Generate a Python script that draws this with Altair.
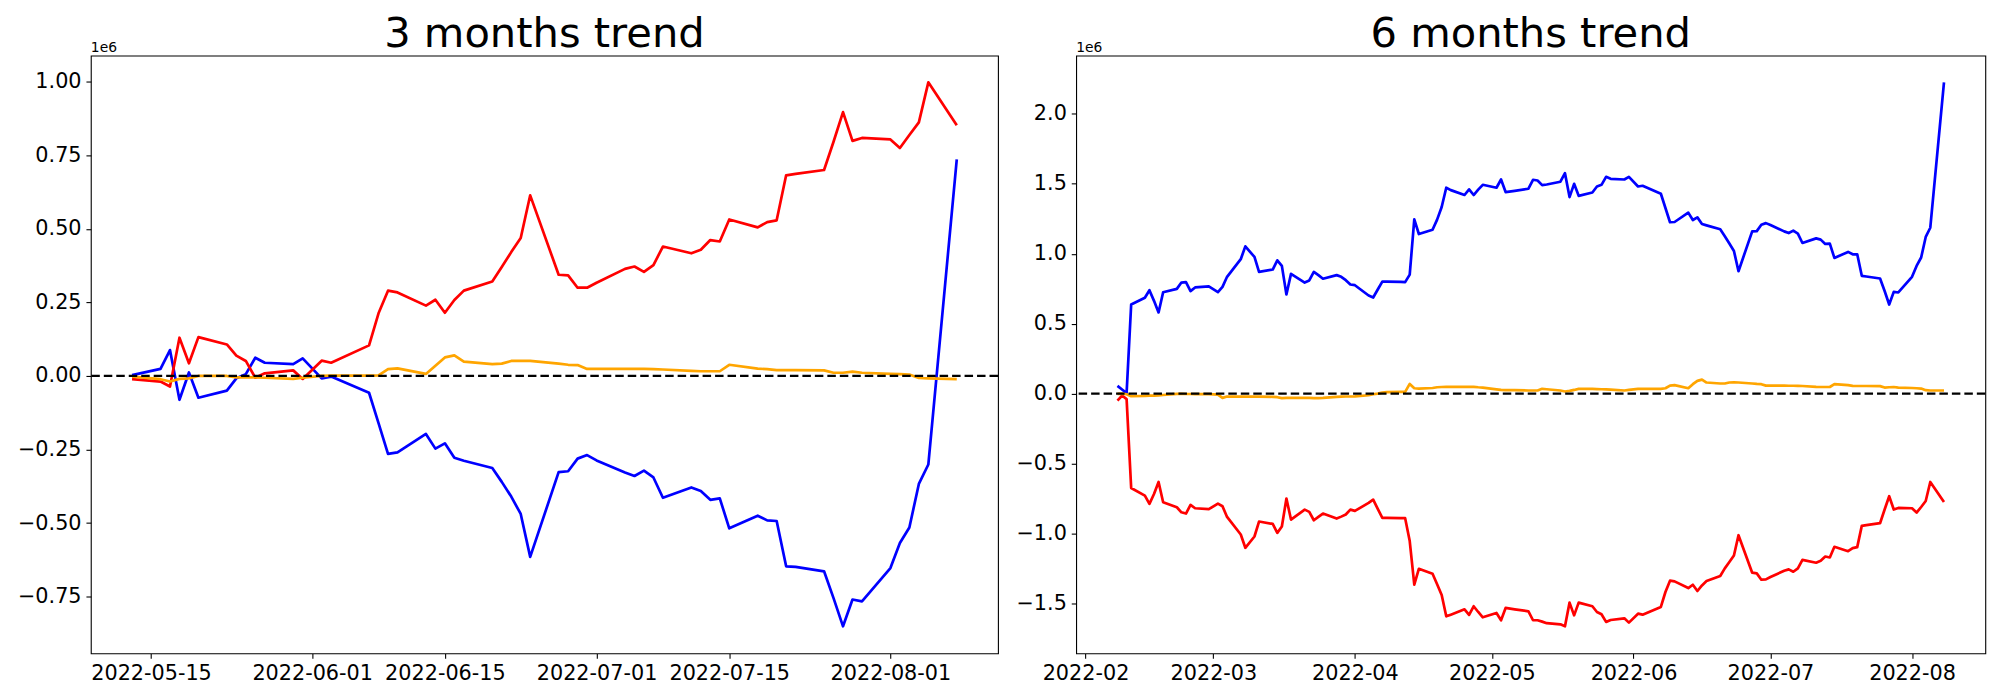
import altair as alt
import pandas as pd

# ---------------- data (values in units of 1e6) ----------------
dates_3m = (
    ["2022-05-13", "2022-05-16", "2022-05-17", "2022-05-18", "2022-05-19", "2022-05-20",
     "2022-05-23", "2022-05-24", "2022-05-25", "2022-05-26", "2022-05-27", "2022-05-30", "2022-05-31"]
    + ["2022-06-02", "2022-06-03", "2022-06-07", "2022-06-08", "2022-06-09", "2022-06-10",
       "2022-06-13", "2022-06-14", "2022-06-15", "2022-06-16", "2022-06-17", "2022-06-20",
       "2022-06-21", "2022-06-22", "2022-06-23", "2022-06-24", "2022-06-27", "2022-06-28",
       "2022-06-29", "2022-06-30"]
    + ["2022-07-01", "2022-07-04", "2022-07-05", "2022-07-06", "2022-07-07", "2022-07-08",
       "2022-07-11", "2022-07-12", "2022-07-13", "2022-07-14", "2022-07-15", "2022-07-18",
       "2022-07-19", "2022-07-20", "2022-07-21", "2022-07-22", "2022-07-25", "2022-07-26",
       "2022-07-27", "2022-07-28", "2022-07-29"]
    + ["2022-08-01", "2022-08-02", "2022-08-03", "2022-08-04", "2022-08-05", "2022-08-08"]
)
blue_3m = (
    [0.003, 0.024, 0.088, -0.081, 0.012, -0.074, -0.050, -0.008, 0.006, 0.062, 0.045, 0.040, 0.060]
    + [-0.008, -0.002, -0.057, -0.160, -0.265, -0.260, -0.197, -0.247, -0.229, -0.278, -0.288,
       -0.313, -0.360, -0.410, -0.469, -0.615, -0.327, -0.324, -0.281, -0.269]
    + [-0.287, -0.328, -0.340, -0.322, -0.345, -0.414, -0.379, -0.391, -0.421, -0.416, -0.518,
       -0.475, -0.491, -0.493, -0.647, -0.649, -0.664, -0.755, -0.851, -0.760, -0.766]
    + [-0.653, -0.568, -0.515, -0.367, -0.301, 0.736]
)
red_3m = (
    [-0.011, -0.019, -0.036, 0.130, 0.043, 0.132, 0.107, 0.069, 0.051, -0.006, 0.009, 0.019, -0.010]
    + [0.052, 0.045, 0.104, 0.213, 0.290, 0.284, 0.239, 0.259, 0.215, 0.258, 0.290, 0.321,
       0.370, 0.421, 0.469, 0.614, 0.344, 0.342, 0.300, 0.300]
    + [0.317, 0.364, 0.372, 0.354, 0.377, 0.440, 0.417, 0.429, 0.462, 0.457, 0.532, 0.505,
       0.523, 0.529, 0.682, 0.687, 0.700, 0.796, 0.897, 0.799, 0.809]
    + [0.804, 0.775, 0.819, 0.862, 0.998, 0.852]
)
orange_3m = (
    [-0.002, -0.011, -0.019, -0.010, -0.008, 0.000, 0.000, -0.005, -0.005, -0.005, -0.006, -0.010, -0.006]
    + [0.000, 0.001, 0.001, 0.002, 0.023, 0.026, 0.007, 0.035, 0.063, 0.070, 0.049, 0.040,
       0.042, 0.051, 0.051, 0.051, 0.042, 0.038, 0.037, 0.024]
    + [0.024, 0.024, 0.024, 0.024, 0.023, 0.022, 0.017, 0.016, 0.016, 0.016, 0.038, 0.025,
       0.023, 0.020, 0.020, 0.020, 0.019, 0.011, 0.011, 0.015, 0.011]
    + [0.007, 0.006, 0.005, -0.007, -0.008, -0.011]
)

dates_6m = (
    ["2022-02-08", "2022-02-09", "2022-02-10", "2022-02-11", "2022-02-14", "2022-02-15",
     "2022-02-16", "2022-02-17", "2022-02-18", "2022-02-21", "2022-02-22", "2022-02-23",
     "2022-02-24", "2022-02-25", "2022-02-28"]
    + ["2022-03-02", "2022-03-03", "2022-03-04", "2022-03-07", "2022-03-08", "2022-03-10",
       "2022-03-11", "2022-03-14", "2022-03-15", "2022-03-16", "2022-03-17", "2022-03-18",
       "2022-03-21", "2022-03-22", "2022-03-23", "2022-03-24", "2022-03-25", "2022-03-28",
       "2022-03-29", "2022-03-30", "2022-03-31"]
    + ["2022-04-01", "2022-04-04", "2022-04-05", "2022-04-06", "2022-04-07", "2022-04-08",
       "2022-04-11", "2022-04-12", "2022-04-13", "2022-04-14", "2022-04-15", "2022-04-18",
       "2022-04-19", "2022-04-20", "2022-04-21", "2022-04-22", "2022-04-25", "2022-04-26",
       "2022-04-27", "2022-04-28", "2022-04-29"]
    + ["2022-05-02", "2022-05-03", "2022-05-04", "2022-05-06", "2022-05-09", "2022-05-10",
       "2022-05-11", "2022-05-12", "2022-05-13", "2022-05-16", "2022-05-17", "2022-05-18",
       "2022-05-19", "2022-05-20", "2022-05-23", "2022-05-24", "2022-05-25", "2022-05-26",
       "2022-05-27", "2022-05-30", "2022-05-31"]
    + ["2022-06-02", "2022-06-03", "2022-06-07", "2022-06-08", "2022-06-09", "2022-06-10",
       "2022-06-13", "2022-06-14", "2022-06-15", "2022-06-16", "2022-06-17", "2022-06-20",
       "2022-06-21", "2022-06-22", "2022-06-23", "2022-06-24", "2022-06-27", "2022-06-28",
       "2022-06-29", "2022-06-30"]
    + ["2022-07-01", "2022-07-04", "2022-07-05", "2022-07-06", "2022-07-07", "2022-07-08",
       "2022-07-11", "2022-07-12", "2022-07-13", "2022-07-14", "2022-07-15", "2022-07-18",
       "2022-07-19", "2022-07-20", "2022-07-21", "2022-07-22", "2022-07-25", "2022-07-26",
       "2022-07-27", "2022-07-28", "2022-07-29"]
    + ["2022-08-01", "2022-08-02", "2022-08-03", "2022-08-04", "2022-08-05", "2022-08-08"]
)
blue_6m = (
    [0.055, 0.029, 0.003, 0.637, 0.685, 0.739, 0.663, 0.580, 0.725, 0.749, 0.794, 0.797,
     0.733, 0.759, 0.766]
    + [0.725, 0.763, 0.835, 0.961, 1.053, 0.977, 0.870, 0.887, 0.953, 0.913, 0.709, 0.856,
       0.794, 0.809, 0.870, 0.847, 0.821, 0.847, 0.835, 0.811, 0.780]
    + [0.775, 0.701, 0.687, 0.744, 0.801, 0.801, 0.799, 0.797, 0.851, 1.246, 1.141, 1.172,
       1.244, 1.334, 1.472, 1.455, 1.420, 1.460, 1.420, 1.458, 1.493]
    + [1.472, 1.531, 1.441, 1.450, 1.465, 1.529, 1.524, 1.491, 1.495, 1.515, 1.576, 1.405,
       1.500, 1.414, 1.438, 1.481, 1.493, 1.550, 1.536, 1.531, 1.550]
    + [1.481, 1.486, 1.429, 1.327, 1.225, 1.227, 1.294, 1.241, 1.260, 1.213, 1.203, 1.175,
       1.125, 1.073, 1.020, 0.875, 1.160, 1.162, 1.207, 1.219]
    + [1.205, 1.160, 1.148, 1.165, 1.144, 1.077, 1.110, 1.101, 1.070, 1.072, 0.970, 1.013,
       0.996, 0.996, 0.842, 0.837, 0.823, 0.733, 0.637, 0.727, 0.723]
    + [0.835, 0.913, 0.973, 1.120, 1.186, 2.225]
)
red_6m = (
    [-0.050, -0.014, -0.040, -0.675, -0.730, -0.789, -0.718, -0.632, -0.777, -0.813, -0.849,
     -0.858, -0.796, -0.820, -0.827]
    + [-0.787, -0.806, -0.882, -1.008, -1.103, -1.022, -0.915, -0.932, -0.996, -0.951, -0.751,
       -0.901, -0.830, -0.846, -0.906, -0.882, -0.858, -0.894, -0.880, -0.865, -0.830]
    + [-0.839, -0.782, -0.758, -0.825, -0.889, -0.889, -0.891, -0.891, -1.055, -1.367, -1.253,
       -1.289, -1.364, -1.441, -1.593, -1.581, -1.543, -1.583, -1.521, -1.562, -1.600]
    + [-1.569, -1.621, -1.533, -1.543, -1.557, -1.621, -1.621, -1.631, -1.642, -1.650, -1.664,
       -1.495, -1.586, -1.495, -1.521, -1.562, -1.578, -1.633, -1.619, -1.607, -1.638]
    + [-1.574, -1.581, -1.526, -1.419, -1.338, -1.343, -1.391, -1.367, -1.412, -1.372, -1.341,
       -1.305, -1.250, -1.205, -1.158, -1.013, -1.281, -1.286, -1.331, -1.329]
    + [-1.312, -1.267, -1.257, -1.274, -1.250, -1.189, -1.210, -1.196, -1.165, -1.172, -1.096,
       -1.127, -1.105, -1.098, -0.946, -0.941, -0.927, -0.829, -0.734, -0.829, -0.818]
    + [-0.820, -0.851, -0.811, -0.768, -0.632, -0.775]
)
orange_6m = (
    [-0.002, 0.000, -0.005, -0.019, -0.017, -0.015, -0.014, -0.013, -0.010, -0.002, -0.002,
     -0.003, -0.003, -0.004, -0.004]
    + [-0.007, -0.031, -0.021, -0.022, -0.022, -0.022, -0.022, -0.023, -0.026, -0.033, -0.031,
       -0.031, -0.031, -0.031, -0.032, -0.032, -0.031, -0.024, -0.022, -0.021, -0.021]
    + [-0.020, -0.012, -0.005, 0.000, 0.007, 0.010, 0.012, 0.012, 0.069, 0.038, 0.036,
       0.040, 0.045, 0.047, 0.048, 0.048, 0.048, 0.048, 0.048, 0.045, 0.043]
    + [0.030, 0.026, 0.024, 0.024, 0.022, 0.022, 0.022, 0.034, 0.031, 0.022, 0.015,
       0.019, 0.026, 0.034, 0.033, 0.032, 0.031, 0.030, 0.028, 0.022, 0.026]
    + [0.034, 0.034, 0.034, 0.038, 0.057, 0.060, 0.038, 0.067, 0.091, 0.100, 0.079,
       0.072, 0.072, 0.079, 0.081, 0.079, 0.072, 0.069, 0.067, 0.057]
    + [0.057, 0.057, 0.056, 0.056, 0.055, 0.054, 0.048, 0.047, 0.047, 0.047, 0.067,
       0.060, 0.055, 0.054, 0.054, 0.054, 0.053, 0.043, 0.045, 0.047, 0.043]
    + [0.040, 0.038, 0.036, 0.024, 0.022, 0.022]
)

titles = ["3 months trend", "6 months trend"]
offset_label = "1e6"
x_ticks_3m = ["2022-05-15", "2022-06-01", "2022-06-15", "2022-07-01", "2022-07-15", "2022-08-01"]
x_ticks_6m = ["2022-02-01", "2022-03-01", "2022-04-01", "2022-05-01", "2022-06-01",
              "2022-07-01", "2022-08-01"]
y_ticks_3m = [-0.75, -0.5, -0.25, 0.0, 0.25, 0.5, 0.75, 1.0]
y_ticks_6m = [-1.5, -1.0, -0.5, 0.0, 0.5, 1.0, 1.5, 2.0]
x_domain_3m = ["2022-05-08 15:36", "2022-08-12 08:24"]
x_domain_6m = ["2022-01-29 22:48", "2022-08-17 01:12"]
y_domain_3m = [-0.943, 1.089]
y_domain_6m = [-1.858, 2.417]
zero_level = [0.0]
series_colors = [("blue", "#0000ff"), ("red", "#ff0000"), ("orange", "#ffa500")]

for lst in (blue_3m, red_3m, orange_3m):
    assert len(lst) == len(dates_3m), len(lst)
for lst in (blue_6m, red_6m, orange_6m):
    assert len(lst) == len(dates_6m), len(lst)


def dt(s):
    d, _, t = s.partition(" ")
    y, m, dd = (int(p) for p in d.split("-"))
    hh, mm = (int(p) for p in t.split(":")) if t else (0, 0)
    return alt.DateTime(year=y, month=m, date=dd, hours=hh, minutes=mm, utc=True)


FONT = "DejaVu Sans"


def panel(dates, series, title, xticks, xfmt, xdom, yticks, yfmt, ydom, w, h, yext):
    rows = []
    for name, vals in series:
        for d, v in zip(dates, vals):
            rows.append({"date": d, "series": name, "value": v})
    df = pd.DataFrame(rows)

    x = alt.X("date:T", title=None,
              scale=alt.Scale(type="utc", domain=[dt(s) for s in xdom]),
              axis=alt.Axis(values=[dt(s) for s in xticks], format=xfmt, labelAngle=0))
    y = alt.Y("value:Q", title=None,
              scale=alt.Scale(domain=ydom, nice=False, zero=False),
              axis=alt.Axis(values=yticks, format=yfmt, minExtent=yext, maxExtent=yext))

    layers = []
    for name, color in series_colors:
        layers.append(
            alt.Chart(df).transform_filter(alt.datum.series == name)
            .mark_line(color=color, strokeWidth=2.7, strokeJoin="round")
            .encode(x=x, y=y)
        )
    zero = alt.Chart(pd.DataFrame({"value": zero_level})).mark_rule(
        color="black", strokeWidth=2.2, strokeDash=[8.5, 4]
    ).encode(y=y)
    ttl = alt.Chart(pd.DataFrame({"t": [title]})).mark_text(
        font=FONT, fontSize=41.7, color="black", align="center", baseline="alphabetic"
    ).encode(text="t:N", x=alt.value(w / 2), y=alt.value(-8.3))
    off = alt.Chart(pd.DataFrame({"t": [offset_label]})).mark_text(
        font=FONT, fontSize=13.9, color="black", align="left", baseline="alphabetic"
    ).encode(text="t:N", x=alt.value(0), y=alt.value(-3.6))
    return alt.layer(*layers, zero, ttl, off).properties(width=w, height=h)


left = panel(dates_3m, [("blue", blue_3m), ("red", red_3m), ("orange", orange_3m)],
             titles[0], x_ticks_3m, "%Y-%m-%d", x_domain_3m, y_ticks_3m, ".2f",
             y_domain_3m, 909, 599, 77)
right = panel(dates_6m, [("blue", blue_6m), ("red", red_6m), ("orange", orange_6m)],
              titles[1], x_ticks_6m, "%Y-%m", x_domain_6m, y_ticks_6m, ".1f",
              y_domain_6m, 911, 599, 60)

chart = (
    alt.hconcat(left, right, spacing=15.3)
    .properties(padding={"left": 5, "top": 5, "right": 5, "bottom": 5}, background="white")
    .configure_view(stroke="black", strokeWidth=1.1)
    .configure_axis(domain=False, grid=False, labelFont=FONT, labelFontSize=20.8,
                    labelColor="black", tickColor="black", tickSize=4.9, tickWidth=1.1,
                    labelPadding=4.9, labelFlush=False, labelOverlap=False)
)

chart.save("out.html", embed_options={"renderer": "svg", "actions": False})
